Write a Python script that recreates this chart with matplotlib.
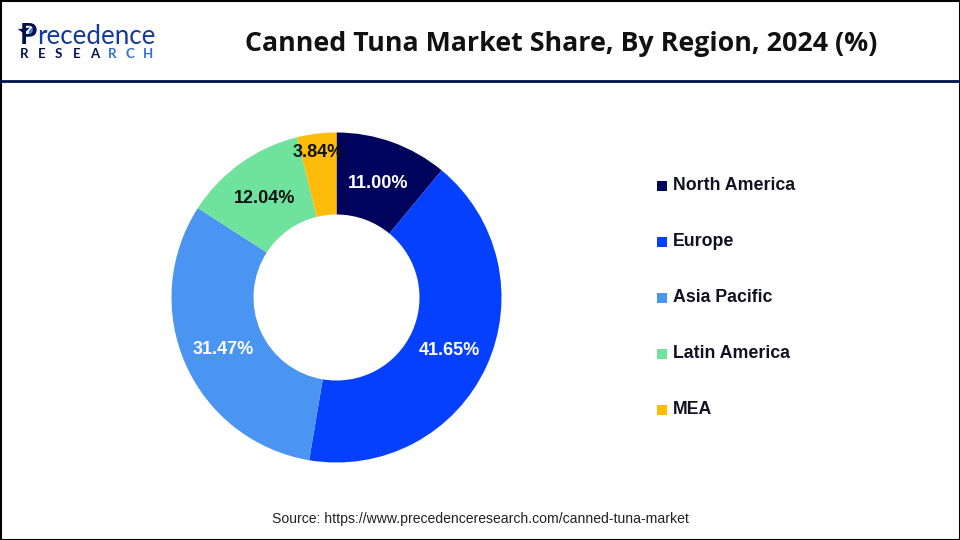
import matplotlib
matplotlib.use('Agg')

import numpy as np
import matplotlib.pyplot as plt
from matplotlib.patches import Polygon, Rectangle

regions = ['North America', 'Europe', 'Asia Pacific', 'Latin America', 'MEA']
shares = [11.00, 41.65, 31.47, 12.04, 3.84]
colors = ['#00035B', '#0540FF', '#4A94F2', '#6FE39D', '#FFBB0A']
label_colors = ['white', 'white', 'white', '#111111', '#111111']
label_dist = [0.75, 0.75, 0.75, 0.75, 0.90]

W, H = 960, 540
NAVY = '#00104A'

fig = plt.figure(figsize=(W / 100, H / 100), dpi=100, facecolor='white')

# page level stuff in pixel coords
bg = fig.add_axes([0, 0, 1, 1])
bg.set_xlim(0, W)
bg.set_ylim(H, 0)
bg.axis('off')
bg.add_patch(Rectangle((0.5, 0.5), W - 1, H - 1, fill=False, ec='black', lw=1.5))
bg.plot([0, W], [81, 81], color=NAVY, lw=2)

bg.text(561, 44, 'Canned Tuna Market Share, By Region, 2024 (%)', ha='center', va='center',
        fontsize=19.3, fontweight='bold', family='Open Sans', color='#111111')
bg.text(480, 519, 'Source: https://www.precedenceresearch.com/canned-tuna-market', ha='center', va='center',
        fontsize=10.1, family='Liberation Sans', color='#222222')

# logo
bg.text(20, 44, 'P', ha='left', va='baseline', fontsize=20, fontweight='bold', family='Lato', color=NAVY)
bg.add_patch(Polygon([[17, 29], [31, 27], [24, 34]], fc=NAVY, ec='white', lw=0.5))
bg.add_patch(Polygon([[27, 38], [29, 30], [35, 25], [33, 33]], fc='#3F7FE0', ec='white', lw=0.5))
bg.text(37, 44, 'recedence', ha='left', va='baseline', fontsize=18.6, family='Lato', color='#123A9A')
for i, ch in enumerate('RESEARCH'):
    bg.text(20 + i * 17.5, 58, ch, ha='left', va='baseline', fontsize=9.5, fontweight='bold',
            family='Lato', color=NAVY if i < 5 else '#2F6FD0')

# donut, 330 px wide centred on (336, 297)
R = 165
ax = fig.add_axes([(336.5 - R) / W, 1 - (297.5 + R) / H, 2 * R / W, 2 * R / H])
wedges, _ = ax.pie(shares, colors=colors, startangle=90, counterclock=False, radius=1,
                   wedgeprops=dict(width=82 / R, linewidth=0))
ax.set_xlim(-1, 1)
ax.set_ylim(-1, 1)

for w, val, col, d in zip(wedges, shares, label_colors, label_dist):
    theta = np.deg2rad((w.theta1 + w.theta2) / 2)
    ax.text(d * np.cos(theta), d * np.sin(theta) - 2 / R, f'{val:.2f}%',
            ha='center', va='center', fontsize=13, fontweight='bold',
            family='Liberation Sans', color=col)

# legend
for i, (name, col) in enumerate(zip(regions, colors)):
    y = 186 + i * 56
    bg.add_patch(Rectangle((657, y - 5), 10, 10, fc=col, ec='none'))
    bg.text(673, y, name, ha='left', va='center', fontsize=12.8, fontweight='bold',
            family='Liberation Sans', color='#111122')

fig.savefig('out.png', dpi=100)
